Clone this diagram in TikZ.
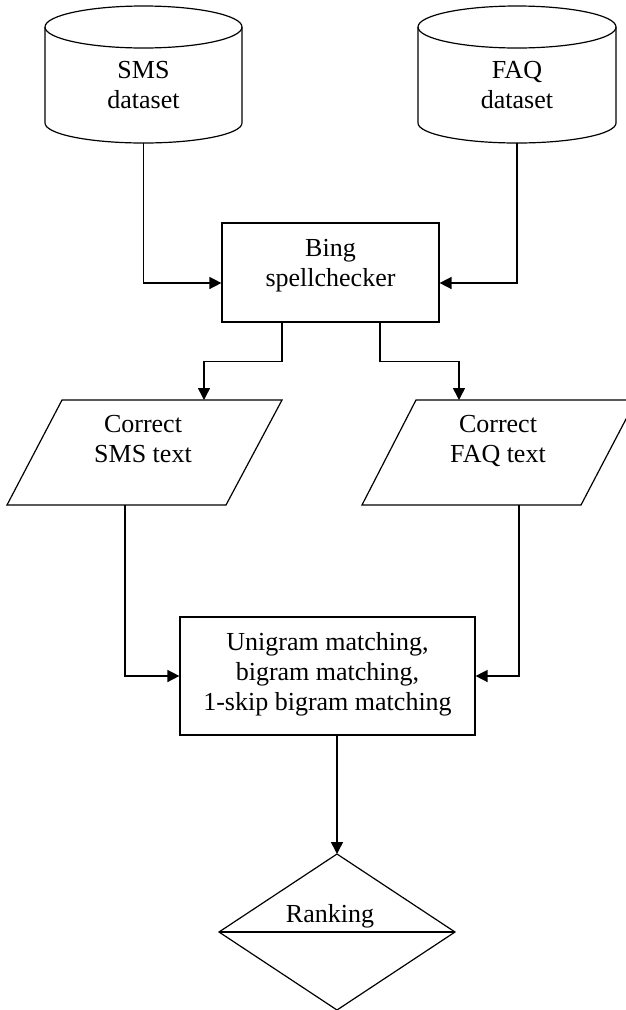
\documentclass[tikz,border=0pt]{standalone}
\usepackage{fontspec}
\setmainfont{Liberation Serif}
\usetikzlibrary{arrows.meta}
\begin{document}
\begin{tikzpicture}[x=1pt,y=-1pt,
  arr/.style={-{Triangle[length=12pt,width=12pt]}, line width=1.5pt},
  outline/.style={draw, line width=1.2pt},
  boxnode/.style={outline, inner sep=0pt},
  txt/.style={align=center, font=\fontsize{26}{30}\selectfont, inner sep=0pt}
]
\useasboundingbox (0,0) rectangle (626,1010);
\clip (0,0) rectangle (626,1010);

% SMS dataset cylinder
\draw[outline] (45,27) -- (45,123) arc[start angle=180,end angle=0,x radius=98.5,y radius=20] -- (242,27);
\draw[outline] (143.5,27) ellipse[x radius=98.5,y radius=21];
\node[txt] (sms) at (143.5,85) {SMS\\dataset};
\coordinate (smsb) at (143.5,143);

% FAQ dataset cylinder
\draw[outline] (418,27) -- (418,123) arc[start angle=180,end angle=0,x radius=99,y radius=20] -- (616,27);
\draw[outline] (517,27) ellipse[x radius=99,y radius=21];
\node[txt] (faq) at (517,85) {FAQ\\dataset};
\coordinate (faqb) at (517,143);

% Bing spellchecker
\node[boxnode, minimum width=217pt, minimum height=99pt] (bing) at (330.5,272.5) {};
\node[txt] (bingt) at (330.5,266) {Bing\\spellchecker};

% Parallelograms
\coordinate (smsptop) at (204,400);
\coordinate (smspbot) at (125,505);
\draw[outline] (62,400) -- (282,400) -- (226,505) -- (7,505) -- cycle;
\node[txt] (smsp) at (143,439) {Correct\\SMS text};

\coordinate (faqptop) at (459,400);
\coordinate (faqpbot) at (519,505);
\draw[outline] (416,400) -- (636,400) -- (581,505) -- (362,505) -- cycle;
\node[txt] (faqp) at (498,441) {Correct\\FAQ text};

% Matching box
\node[boxnode, minimum width=295pt, minimum height=118pt] (uni) at (327.5,676) {};
\node[txt] (unit) at (327.5,674.5) {Unigram matching,\\bigram matching,\\1-skip bigram matching};

% Ranking diamond
\coordinate (dtop) at (337,854);
\coordinate (dleft) at (219,932);
\coordinate (dright) at (455,932);
\coordinate (dbot) at (337,1010);
\draw[outline] (dtop) -- (dright) -- (dbot) -- (dleft) -- cycle;
\draw[outline] (dleft) -- (dright);
\node[txt] (rank) at (330,916.5) {Ranking};

% Connectors
\draw[arr] (smsb) |- ([yshift=-10.5pt]bing.west);
\draw[arr] (faqb) |- ([yshift=-10.5pt]bing.east);
\draw[arr] ([xshift=-48.5pt]bing.south) -- ++(0,39) -| (smsptop);
\draw[arr] ([xshift=49.5pt]bing.south) -- ++(0,39) -| (faqptop);
\draw[arr] (smspbot) |- (uni.west);
\draw[arr] (faqpbot) |- (uni.east);
\draw[arr] ([xshift=9.5pt]uni.south) -- (dtop);
\end{tikzpicture}
\end{document}
